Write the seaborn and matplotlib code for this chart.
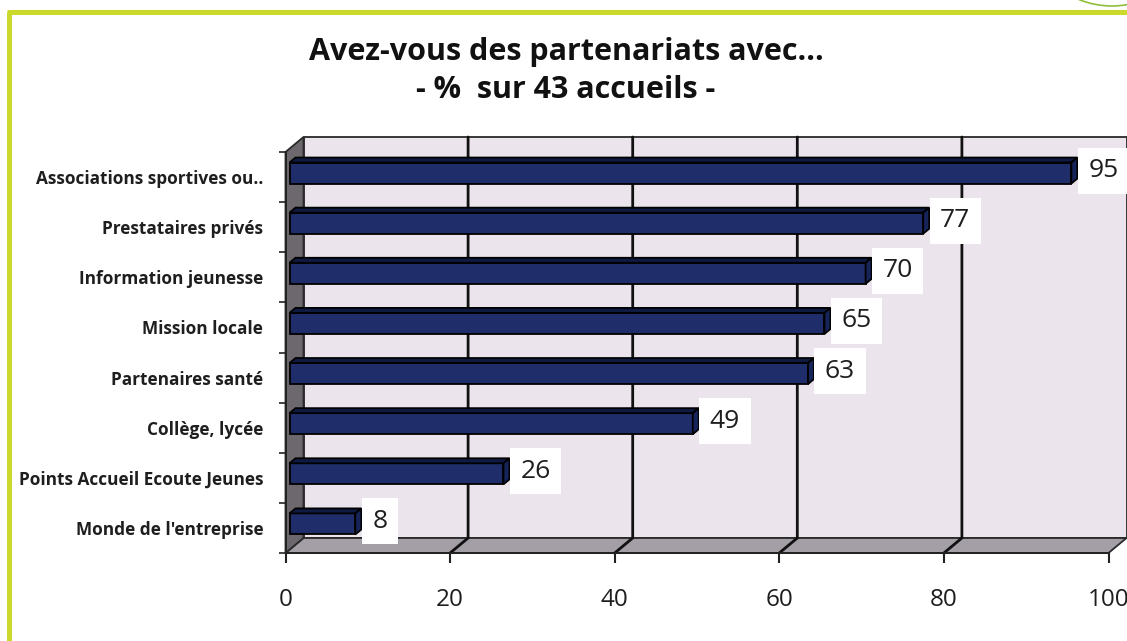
import numpy as np
import pandas as pd
import matplotlib
matplotlib.use("Agg")
import matplotlib.pyplot as plt
import seaborn as sns
from matplotlib.patches import Polygon, Ellipse
from matplotlib.lines import Line2D

# ---- data ----
categories = [
    "Associations sportives ou..",
    "Prestataires privés",
    "Information jeunesse",
    "Mission locale",
    "Partenaires santé",
    "Collège, lycée",
    "Points Accueil Ecoute Jeunes",
    "Monde de l'entreprise",
]
values = [95, 77, 70, 65, 63, 49, 26, 8]
x_ticks = [0, 20, 40, 60, 80, 100]
title_lines = ["Avez-vous des partenariats avec...", "- %  sur 43 accueils -"]

# ---- style ----
sns.set_style("white")
plt.rcParams["font.family"] = ["Open Sans", "DejaVu Sans"]

C_FRONT = "#1f2e6b"
C_TOP = "#0f1a42"
C_SIDE = "#17245a"
C_WALL = "#ebe4ec"
C_FLOOR = "#a49ea6"
C_LEFTWALL = "#6c686e"
C_FRAME = "#cad92c"
C_TEXT = "#1e1e1e"

W, H = 1127, 641
fig = plt.figure(figsize=(W / 100, H / 100), dpi=100)
fig.patch.set_facecolor("white")

# front plane of the 3-D box, in pixels
x0_px, x1_px = 285.5, 1108.5
ybot_px, ytop_px = 553, 152
ax = fig.add_axes([x0_px / W, (H - ybot_px) / H,
                   (x1_px - x0_px) / W, (ybot_px - ytop_px) / H])
ax.patch.set_visible(False)

df = pd.DataFrame({"cat": categories, "val": values})
sns.barplot(data=df, x="val", y="cat", orient="h", color=C_FRONT,
            saturation=1, width=0.42, edgecolor="black", linewidth=1.3,
            ax=ax, zorder=3)
bars = list(ax.patches)

n = len(categories)
ax.set_xlim(0, 100)
ax.set_ylim(n - 0.5, -0.5)

px_x = (x1_px - x0_px) / 100.0
px_y = (ybot_px - ytop_px) / n
DX, DY = 18 / px_x, 15 / px_y      # depth of the box
BX, BY = 4 / px_x, 4 / px_y        # bars sit slightly inside the box
TX, TY = 6 / px_x, 5 / px_y        # depth of each bar

yb, yt = n - 0.5, -0.5

# walls
back = [(DX, yb - DY), (100 + DX, yb - DY), (100 + DX, yt - DY), (DX, yt - DY)]
floor = [(0, yb), (100, yb), (100 + DX, yb - DY), (DX, yb - DY)]
side = [(0, yb), (0, yt), (DX, yt - DY), (DX, yb - DY)]
for pts, fc in [(back, C_WALL), (floor, C_FLOOR), (side, C_LEFTWALL)]:
    ax.add_patch(Polygon(pts, closed=True, facecolor=fc, edgecolor="#2a2a2a",
                         linewidth=1.3, zorder=0.5, clip_on=False))

# grid lines on floor and back wall
for t in x_ticks[1:-1]:
    ax.plot([t, t + DX, t + DX], [yb, yb - DY, yt - DY], color="#111111",
            linewidth=2.0, zorder=1, clip_on=False, solid_joinstyle="miter")

# 3-D bars
for p, v in zip(bars, values):
    p.set_x(p.get_x() + BX)
    p.set_y(p.get_y() - BY)
    xl, ytop_b = p.get_x(), p.get_y()
    w, h = p.get_width(), p.get_height()
    top = [(xl, ytop_b), (xl + w, ytop_b), (xl + w + TX, ytop_b - TY), (xl + TX, ytop_b - TY)]
    sidef = [(xl + w, ytop_b), (xl + w, ytop_b + h), (xl + w + TX, ytop_b + h - TY),
             (xl + w + TX, ytop_b - TY)]
    ax.add_patch(Polygon(top, closed=True, facecolor=C_TOP, edgecolor="black",
                         linewidth=1.3, zorder=3, clip_on=False))
    ax.add_patch(Polygon(sidef, closed=True, facecolor=C_SIDE, edgecolor="black",
                         linewidth=1.3, zorder=3, clip_on=False))
    ax.text(xl + w + TX + 11 / px_x, ytop_b + h / 2 - TY / 2, f"{v}",
            ha="left", va="center", fontsize=19, color=C_TEXT, zorder=6,
            bbox=dict(boxstyle="square,pad=0.4", fc="white", ec="none"),
            clip_on=False)

# axes, ticks and labels
ax.set_xlabel("")
ax.set_ylabel("")
ax.set_xticks(x_ticks)
ax.set_xticklabels([str(t) for t in x_ticks], fontsize=17.5, color=C_TEXT)
ax.tick_params(axis="x", which="major", bottom=True, length=7, width=1.5,
               color="#222222", pad=18, direction="out")
ax.set_yticks(range(n))
ax.set_yticklabels(categories, fontsize=12.4, fontweight="bold", color=C_TEXT)
ax.tick_params(axis="y", which="major", left=False, length=0, pad=16)
ax.set_yticks(np.arange(-0.5, n, 1.0), minor=True)
ax.tick_params(axis="y", which="minor", left=True, length=5, width=1.2,
               color="#222222", direction="out")
for s in ["top", "right"]:
    ax.spines[s].set_visible(False)
for s in ["left", "bottom"]:
    ax.spines[s].set_color("#222222")
    ax.spines[s].set_linewidth(1.4)
    ax.spines[s].set_zorder(2)

# title
fig.text(566 / W, 1 - 52 / H, title_lines[0], ha="center", va="center",
         fontsize=22, fontweight="bold", color="#111111")
fig.text(566 / W, 1 - 90 / H, title_lines[1], ha="center", va="center",
         fontsize=22, fontweight="bold", color="#111111")

# page frame
fig.add_artist(Line2D([9 / W, 9 / W], [0, 1 - 12 / H], transform=fig.transFigure,
                      color=C_FRAME, linewidth=3.6, solid_capstyle="butt"))
fig.add_artist(Line2D([7.2 / W, 1], [1 - 12 / H, 1 - 12 / H], transform=fig.transFigure,
                      color=C_FRAME, linewidth=3.6, solid_capstyle="butt"))
fig.add_artist(Ellipse((1112 / W, 1 + 82 / H), 176 / W, 176 / H,
                       transform=fig.transFigure, fill=False,
                       edgecolor="#8fbf3a", linewidth=1.2))

fig.savefig("out.png", dpi=100, facecolor="white")
